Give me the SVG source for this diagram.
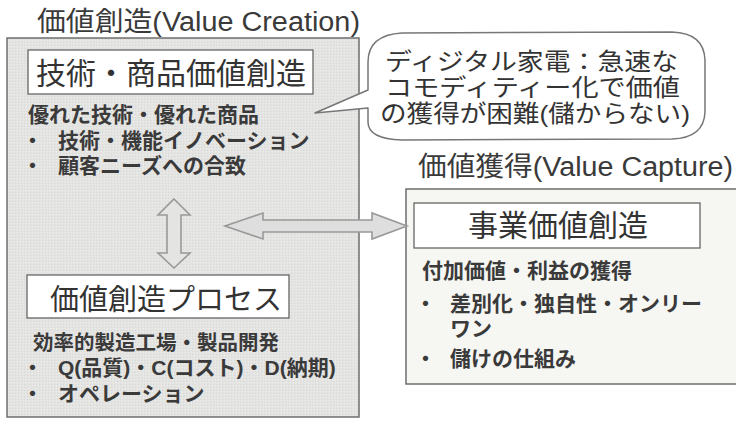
<svg xmlns="http://www.w3.org/2000/svg" width="736" height="421" viewBox="0 0 736 421">
  <style>
    .t { font-family: "Liberation Sans", "Noto Sans CJK JP", sans-serif; fill: #333; }
    .title { font-size: 27px; fill: #3a3a3a; }
    .head { font-size: 30px; fill: #333; }
    .body { font-size: 21px; font-weight: bold; fill: #3a3a3a; }
    .callout { font-size: 24px; fill: #333; }
    .outer { stroke: #6e6e6e; stroke-width: 1.5; }
    .inner { fill: #ffffff; stroke: #666; stroke-width: 1.3; }
    .arrow { stroke: #999; stroke-width: 1.6; stroke-linejoin: miter; }
  </style>
  <defs>
    <pattern id="dither" width="3" height="3" patternUnits="userSpaceOnUse">
      <rect width="3" height="3" fill="#e4e4e2"/>
      <rect x="0" y="0" width="1" height="1" fill="#d8d8d6"/>
      <rect x="2" y="1" width="1" height="1" fill="#ececea"/>
    </pattern>
  </defs>
  <rect width="736" height="421" fill="#ffffff"/>

  <!-- Value creation group -->
  <g id="title-creation">
    <text class="t title" x="37" y="31" textLength="323" lengthAdjust="spacingAndGlyphs">価値創造(Value Creation)</text>
  </g>
  <g id="box-creation">
    <rect class="outer" x="7" y="38" width="352" height="379" fill="url(#dither)"/>
  </g>
  <g id="node-tech">
    <rect class="inner" x="28" y="50" width="285" height="44"/>
    <text class="t head" x="36" y="84">技術・商品価値創造</text>
    <text class="t body" x="28" y="122">優れた技術・優れた商品</text>
    <text class="t body"><tspan x="22" y="148">・</tspan><tspan x="58" y="148">技術・機能イノベーション</tspan></text>
    <text class="t body"><tspan x="22" y="173">・</tspan><tspan x="58" y="173">顧客ニーズへの合致</tspan></text>
  </g>
  <g id="node-process">
    <rect class="inner" x="27" y="275" width="262" height="43"/>
    <text class="t head" x="50" y="310" style="font-size:29px">価値創造プロセス</text>
    <text class="t body" x="33" y="350" style="font-size:20.5px">効率的製造工場・製品開発</text>
    <text class="t body"><tspan x="22" y="375">・</tspan><tspan x="58" y="375">Q(品質)・C(コスト)・D(納期)</tspan></text>
    <text class="t body"><tspan x="22" y="401">・</tspan><tspan x="58" y="401">オペレーション</tspan></text>
  </g>

  <!-- Callout -->
  <g id="callout">
    <path d="M368,90 L368,62 Q368,35 402,33 L672,32 Q704,33 705,60 L705,112 Q704,138 672,139 L402,140 Q368,139 368,122 L368,108 L315,113 Z" fill="#ffffff" stroke="#777" stroke-width="1.5" stroke-linejoin="round"/>
    <text class="t callout" x="385" y="70" textLength="293" lengthAdjust="spacingAndGlyphs">ディジタル家電：急速な</text>
    <text class="t callout" x="385" y="96" textLength="295" lengthAdjust="spacingAndGlyphs">コモディティー化で価値</text>
    <text class="t callout" x="380" y="122" textLength="310" lengthAdjust="spacingAndGlyphs">の獲得が困難(儲からない)</text>
  </g>

  <!-- Value capture group -->
  <g id="title-capture">
    <text class="t title" x="418" y="176" textLength="315" lengthAdjust="spacingAndGlyphs">価値獲得(Value Capture)</text>
  </g>
  <g id="node-capture">
    <rect class="outer" x="406" y="189" width="340" height="195" fill="#f6f6f3"/>
    <rect class="inner" x="414" y="203" width="286" height="45"/>
    <text class="t head" x="468" y="236">事業価値創造</text>
    <text class="t body" x="422" y="278">付加価値・利益の獲得</text>
    <text class="t body"><tspan x="415" y="311">・</tspan><tspan x="450" y="311">差別化・独自性・オンリー</tspan></text>
    <text class="t body" x="450" y="336">ワン</text>
    <text class="t body"><tspan x="415" y="366">・</tspan><tspan x="450" y="366">儲けの仕組み</tspan></text>
  </g>

  <!-- Connectors -->
  <g id="connectors">
    <path class="arrow" fill="#e4e4e2" d="M174,199 L190,215 L181,215 L181,253 L190,253 L174,268 L158,253 L167,253 L167,215 L158,215 Z"/>
    <path class="arrow" fill="#dedede" d="M225,226 L263,213 L263,220 L372,220 L372,213 L407,226 L372,239 L372,232 L263,232 L263,239 Z"/>
  </g>
</svg>
